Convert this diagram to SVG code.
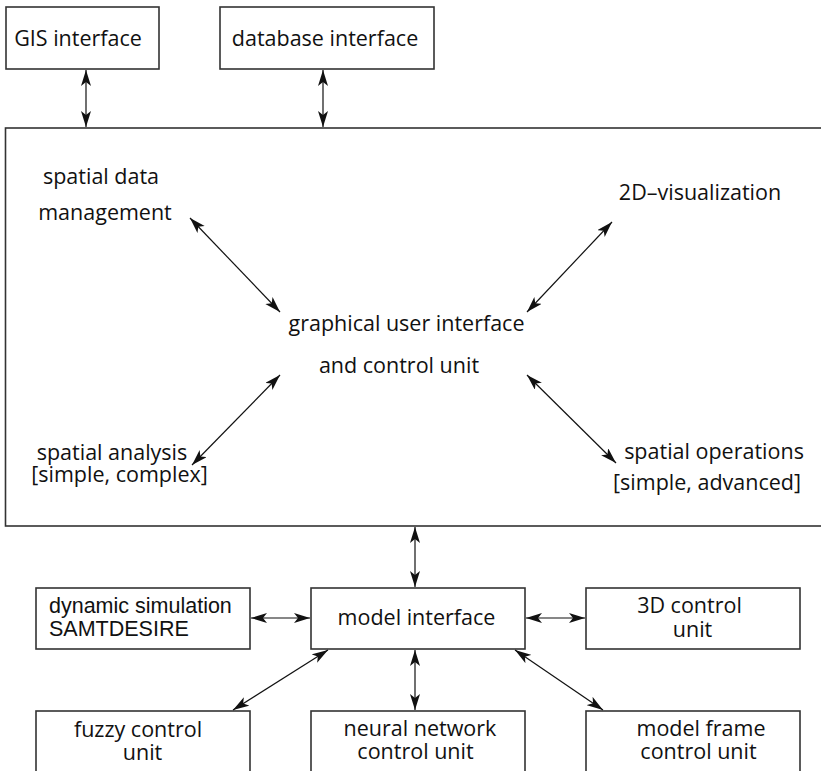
<svg xmlns="http://www.w3.org/2000/svg" width="821" height="771" viewBox="0 0 821 771">
<style>
.box{fill:#fff;stroke:#333;stroke-width:1.6}
.t{font-family:"Open Sans",Lato,sans-serif;font-size:21.5px;fill:#111;text-anchor:middle}
.h{font-family:"Liberation Sans",Arial,sans-serif;font-size:21.5px;fill:#111}
.c{stroke:#111;stroke-width:1.2;fill:none;marker-start:url(#ah);marker-end:url(#ah)}
</style>
<defs>
<marker id="ah" markerUnits="userSpaceOnUse" markerWidth="17" markerHeight="11" refX="16" refY="5" orient="auto-start-reverse" viewBox="0 0 17 11">
<path d="M0,0 L16,5 L0,10 L4,5 Z" fill="#111"/>
</marker>
</defs>
<rect width="821" height="771" fill="#fff"/>
<g id="gis"><rect class="box" x="6" y="7" width="153" height="62"/><text class="t" x="78" y="46">GIS interface</text></g>
<g id="db"><rect class="box" x="220" y="7" width="214" height="62"/><text class="t" x="325" y="46">database interface</text></g>
<g id="main"><rect class="box" x="5.5" y="128" width="830" height="398"/>
<text class="t" x="101" y="184">spatial data</text>
<text class="t" x="105" y="220">management</text>
<text class="t" x="700" y="200">2D–visualization</text>
<text class="t" x="406.5" y="331">graphical user interface</text>
<text class="t" x="399" y="373">and control unit</text>
<text class="t" x="112" y="460">spatial analysis</text>
<text class="t" x="119.5" y="482">[simple, complex]</text>
<text class="t" x="714" y="459">spatial operations</text>
<text class="t" x="707" y="490">[simple, advanced]</text>
</g>
<g id="dyn"><rect class="box" x="36" y="588" width="214" height="61"/><text class="h" x="49" y="613">dynamic simulation</text><text class="h" x="49" y="636">SAMTDESIRE</text></g>
<g id="model"><rect class="box" x="311" y="588" width="214" height="61"/><text class="t" x="416.5" y="625">model interface</text></g>
<g id="ctl3d"><rect class="box" x="586" y="588" width="214" height="61"/><text class="t" x="689.5" y="613">3D control</text><text class="t" x="692.5" y="637">unit</text></g>
<g id="fuzzy"><rect class="box" x="36" y="711" width="214" height="80"/><text class="t" x="138" y="737">fuzzy control</text><text class="t" x="142.5" y="760">unit</text></g>
<g id="neural"><rect class="box" x="311" y="711" width="214" height="80"/><text class="t" x="420" y="736">neural network</text><text class="t" x="415.5" y="759">control unit</text></g>
<g id="frame"><rect class="box" x="586" y="711" width="214" height="80"/><text class="t" x="701" y="736">model frame</text><text class="t" x="698.5" y="759">control unit</text></g>
<g id="connectors">
<line class="c" x1="86" y1="70" x2="86" y2="127"/>
<line class="c" x1="323" y1="70" x2="323" y2="127"/>
<line class="c" x1="190" y1="218" x2="280" y2="312"/>
<line class="c" x1="612" y1="222" x2="527" y2="312"/>
<line class="c" x1="280" y1="375" x2="192" y2="465"/>
<line class="c" x1="527" y1="375" x2="616" y2="463"/>
<line class="c" x1="415" y1="527" x2="415" y2="587"/>
<line class="c" x1="251" y1="618" x2="310" y2="618"/>
<line class="c" x1="526" y1="618" x2="585" y2="618"/>
<line class="c" x1="328" y1="650" x2="233" y2="710"/>
<line class="c" x1="415" y1="650" x2="415" y2="710"/>
<line class="c" x1="515" y1="650" x2="603" y2="710"/>
</g>
</svg>
